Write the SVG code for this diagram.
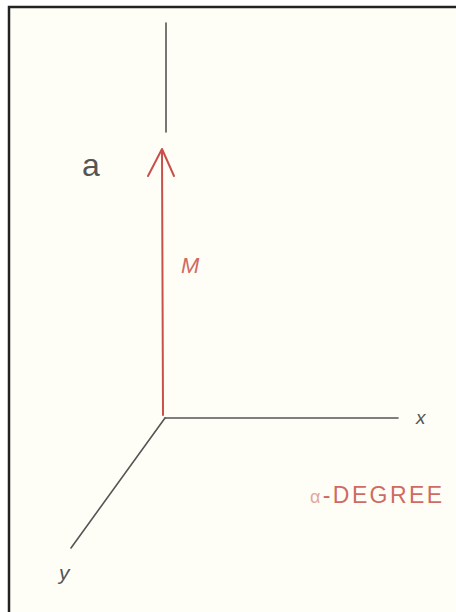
<svg xmlns="http://www.w3.org/2000/svg" width="456" height="612" viewBox="0 0 456 612">
<style>
.axis{stroke:#555;stroke-width:1.6;fill:none;stroke-linecap:round}
.red{stroke:#c8504c;stroke-width:2;fill:none;stroke-linecap:round;stroke-linejoin:round}
.lbl{font-family:"Liberation Sans",Arial,sans-serif;fill:#555}
.rlbl{font-family:"Liberation Sans",Arial,sans-serif;fill:#d06a64}
</style>
<rect x="0" y="0" width="456" height="612" fill="#ffffff"/>
<rect x="9" y="7" width="460" height="620" fill="#fffef6" stroke="#222" stroke-width="2.5"/>
<g id="connectors">
<line class="axis" x1="166" y1="23" x2="166" y2="132"/>
<line class="axis" x1="165" y1="418" x2="398" y2="418"/>
<line class="axis" x1="165" y1="418" x2="71" y2="548"/>
<line class="red" x1="162" y1="150" x2="163" y2="415"/>
<polyline class="red" points="148,176 162,149 174,176"/>
</g>
<g id="label-a"><text class="lbl" x="82" y="176" font-size="32" fill="#444">a</text></g>
<g id="label-M"><text class="rlbl" x="181" y="273" font-size="22" font-style="italic" fill="#c98a86">M</text></g>
<g id="label-x"><text class="lbl" x="416" y="424" font-size="19" font-style="italic">x</text></g>
<g id="label-y"><text class="lbl" x="59" y="580" font-size="21" font-style="italic">y</text></g>
<g id="label-alpha"><text class="rlbl" x="310" y="503" font-size="23" textLength="132" lengthAdjust="spacing"><tspan fill="#e0a8a0" font-size="18">α</tspan>-DEGREE</text></g>
</svg>
